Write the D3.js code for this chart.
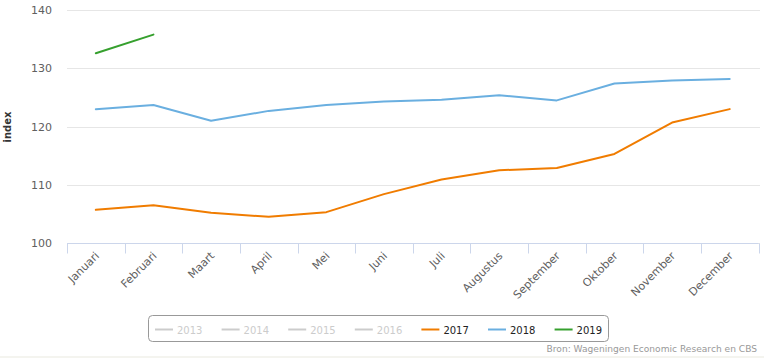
<!DOCTYPE html>
<html><head><meta charset="utf-8">
<script src="https://cdn.jsdelivr.net/npm/d3@7"></script>
<style>body{margin:0;background:#fff}svg{display:block}</style>
</head><body><svg id="c" width="764" height="358"></svg>
<script>
const months = ["Januari","Februari","Maart","April","Mei","Juni","Juli","Augustus","September","Oktober","November","December"];
const values2017 = [105.7,106.5,105.2,104.5,105.3,108.4,110.9,112.5,112.9,115.3,120.7,123.0];
const values2018 = [123.0,123.7,121.0,122.7,123.7,124.3,124.6,125.4,124.5,127.4,127.9,128.2];
const values2019 = [132.6,135.8];
const yTicks = [100,110,120,130,140];
const legendYears = ["2013","2014","2015","2016","2017","2018","2019"];
const activeSeries = {"2017":values2017,"2018":values2018,"2019":values2019};
const colors = {"2017":"#f07c00","2018":"#6aafe0","2019":"#36a02e"};

const svg = d3.select("#c");
const font = "'DejaVu Sans', Verdana, sans-serif";
const x = d3.scaleBand().domain(months).range([67,758.5]);
const y = d3.scaleLinear().domain([100,140]).range([243,10.2]);

// gridlines
svg.append("g").selectAll("line").data(yTicks).join("line")
  .attr("x1",67).attr("x2",760).attr("y1",d=>Math.round(y(d))+0.5).attr("y2",d=>Math.round(y(d))+0.5)
  .attr("stroke","#e6e6e6").attr("stroke-width",1);

// y labels
svg.append("g").selectAll("text").data(yTicks).join("text")
  .attr("x",52).attr("y",d=>y(d)+4).attr("text-anchor","end")
  .attr("font-family",font).attr("font-size",11).attr("fill","#606060").text(d=>d);

svg.append("text").attr("transform","translate(11,127) rotate(-90)").attr("text-anchor","middle")
  .attr("font-family",font).attr("font-size",10).attr("font-weight","bold").attr("fill","#333")
  .text("index");

// x axis
const xAxis = d3.axisBottom(x).tickSize(10).tickFormat(d=>d);
const gx = svg.append("g").attr("transform","translate(0,243.5)").call(xAxis);
gx.select(".domain").remove();
gx.append("line").attr("x1",67).attr("x2",758.5).attr("stroke","#ccd6eb");
gx.selectAll(".tick line").remove();
const bounds = months.map(m=>x(m)).concat([x.range()[1]]);
gx.selectAll("line.b").data(bounds).join("line").attr("class","b")
  .attr("x1",d=>Math.round(d)+0.5).attr("x2",d=>Math.round(d)+0.5).attr("y1",0).attr("y2",10)
  .attr("stroke","#ccd6eb");
gx.selectAll(".tick text")
  .attr("font-family",font).attr("font-size",11).attr("fill","#606060")
  .attr("text-anchor","end").attr("dy",null).attr("y",0)
  .attr("transform","translate(4,13) rotate(-45)");

// lines
const line = d3.line().x((d,i)=>x(months[i])+x.bandwidth()/2).y(d=>y(d));
Object.keys(activeSeries).forEach(k=>{
  svg.append("path").datum(activeSeries[k]).attr("d",line)
    .attr("fill","none").attr("stroke",colors[k]).attr("stroke-width",2)
    .attr("stroke-linejoin","round").attr("stroke-linecap","round");
});

// legend
svg.append("rect").attr("x",148.5).attr("y",315.5).attr("width",460).attr("height",26).attr("rx",4)
  .attr("fill","#fff").attr("stroke","#999");
const lg = svg.append("g").selectAll("g").data(legendYears).join("g")
  .attr("transform",(d,i)=>`translate(${155+i*66.6},329)`);
lg.append("line").attr("x1",0).attr("x2",18).attr("y1",0.5).attr("y2",0.5)
  .attr("stroke",d=>colors[d]||"#cccccc").attr("stroke-width",2);
lg.append("text").attr("x",22).attr("y",4.5).attr("font-family",font).attr("font-size",10)
  .attr("fill",d=>colors[d]?"#222":"#cccccc").text(d=>d);

svg.append("text").attr("x",757).attr("y",352).attr("text-anchor","end")
  .attr("font-family",font).attr("font-size",9.1).attr("fill","#999")
  .text("Bron: Wageningen Economic Research en CBS");
svg.append("rect").attr("x",0).attr("y",356).attr("width",764).attr("height",2).attr("fill","#f4f4ef");
</script></body></html>
